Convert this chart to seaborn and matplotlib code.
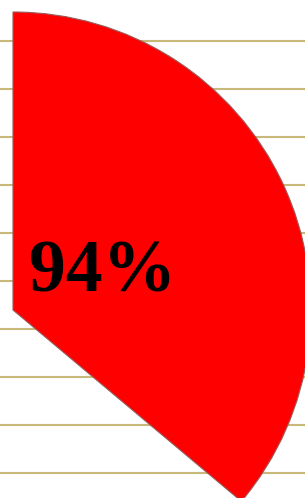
import matplotlib
matplotlib.use("Agg")
import matplotlib.pyplot as plt
import seaborn as sns

# slice shares (only the first one is visible in the crop)
shares = [36.1, 63.9]
slice_colors = ["#ff0000", "none"]
label_text = "94%"
# horizontal guide lines (pixel rows from the top of the picture)
guide_rows = [40.7, 88.7, 136.7, 184.7, 232.7, 280.7, 328.7, 376.7, 424.7, 472.7]

sns.set_style("white")
plt.rcParams["font.family"] = ["Liberation Serif", "DejaVu Serif"]

W, H = 305, 498
fig = plt.figure(figsize=(W / 100, H / 100), dpi=100)
ax = fig.add_axes([0, 0, 1, 1])

wedges, _ = ax.pie(shares, colors=slice_colors, startangle=90, counterclock=False,
                   center=(13, H - 310), radius=298, frame=True,
                   wedgeprops=dict(linewidth=0.8, edgecolor="#9a5a5a"))
wedges[1].set_edgecolor("none")

ax.set_xlim(0, W)
ax.set_ylim(0, H)
ax.set_aspect("auto")
ax.set_yticks([H - r for r in guide_rows])
ax.set_xticks([])
ax.tick_params(left=False, labelleft=False)
ax.grid(axis="y", color="#c8b97a", linewidth=1.5)
ax.set_axisbelow(True)
for s in ax.spines.values():
    s.set_visible(False)

ax.text(29, H - 291, label_text, fontsize=53, fontweight="bold",
        color="black", ha="left", va="baseline")

fig.savefig("out.png", dpi=100)
